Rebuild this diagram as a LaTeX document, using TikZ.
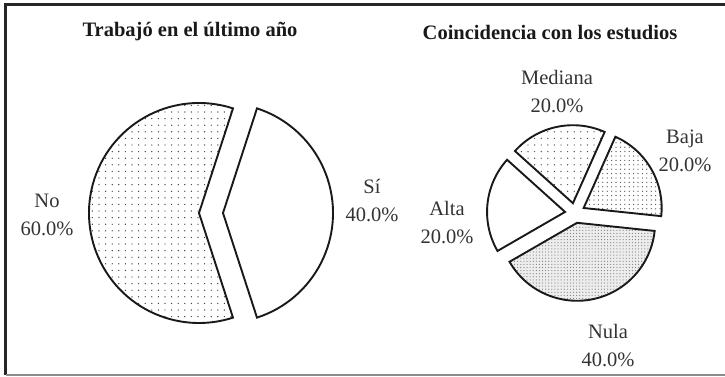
\documentclass[tikz,border=0pt]{standalone}
\usepackage{fontspec}
\setmainfont{Liberation Serif}
\usetikzlibrary{patterns}
\pgfdeclarepatternformonly{sparsedots}{\pgfqpoint{-1pt}{-1pt}}{\pgfqpoint{1pt}{1pt}}{\pgfqpoint{6.6pt}{6.6pt}}{\pgfpathcircle{\pgfqpoint{0pt}{0pt}}{0.7pt}\pgfusepath{fill}}
\pgfdeclarepatternformonly{middots}{\pgfqpoint{-1pt}{-1pt}}{\pgfqpoint{1pt}{1pt}}{\pgfqpoint{4.4pt}{4.4pt}}{\pgfpathcircle{\pgfqpoint{0pt}{0pt}}{0.65pt}\pgfusepath{fill}}
\pgfdeclarepatternformonly{densedots}{\pgfqpoint{-1pt}{-1pt}}{\pgfqpoint{1pt}{1pt}}{\pgfqpoint{3.1pt}{3.1pt}}{\pgfpathcircle{\pgfqpoint{0pt}{0pt}}{0.6pt}\pgfusepath{fill}}
\tikzset{
  slice/.style={draw=black!90, line width=1.9pt, line join=miter},
  lbl/.style={align=center, inner sep=0pt, font=\fontsize{20.5}{28}\selectfont, text=black!80},
  ttl/.style={inner sep=0pt, font=\fontsize{20.5}{24}\selectfont\bfseries, text=black!90},
}
\begin{document}
\begin{tikzpicture}[x=1pt,y=1pt]
\useasboundingbox (0,0) rectangle (725,376);
% frame
\draw[line width=2.6pt, black!85] (5.5,1.5) -- (5.5,371.5) -- (726,371.5);
\draw[line width=2pt, black!45] (5.5,1.5) -- (726,1.5);
% titles
\node[ttl] (t1) at (190,344) {Trabajó en el último año};
\node[ttl] (t2) at (550,343) {Coincidencia con los estudios};
% left pie
\begin{scope}[shift={(211,163)}]
\draw[slice, pattern=sparsedots, pattern color=black!75] (180:12pt) -- ++(72:110pt) arc[start angle=72, end angle=288, radius=110pt] -- cycle;
\draw[slice, fill=white] (0:12pt) -- ++(-72:110pt) arc[start angle=-72, end angle=72, radius=110pt] -- cycle;
\end{scope}
% right pie
\begin{scope}[shift={(575,163)}]
\draw[slice, pattern=middots, pattern color=black!70] (30:10pt) -- ++(-6:78pt) arc[start angle=-6, end angle=66, radius=78pt] -- cycle;
\fill[black!7] (-78:10pt) -- ++(-150:78pt) arc[start angle=-150, end angle=-6, radius=78pt] -- cycle;
\fill[pattern=densedots, pattern color=black!50] (-78:10pt) -- ++(-150:78pt) arc[start angle=-150, end angle=-6, radius=78pt] -- cycle;
\draw[slice] (-78:10pt) -- ++(-150:78pt) arc[start angle=-150, end angle=-6, radius=78pt] -- cycle;
\draw[slice, fill=white] (174:10pt) -- ++(138:78pt) arc[start angle=138, end angle=210, radius=78pt] -- cycle;
\draw[slice, pattern=sparsedots, pattern color=black!70] (102:10pt) -- ++(66:78pt) arc[start angle=66, end angle=138, radius=78pt] -- cycle;
\end{scope}
% labels
\node[lbl] (no) at (47,161) {No\\60.0\%};
\node[lbl] (si) at (372,175) {Sí\\40.0\%};
\node[lbl] (mediana) at (557,284) {Mediana\\20.0\%};
\node[lbl] (baja) at (685,225.5) {Baja\\20.0\%};
\node[lbl] (alta) at (447,153) {Alta\\20.0\%};
\node[lbl] (nula) at (608,30.5) {Nula\\40.0\%};
\end{tikzpicture}
\end{document}
